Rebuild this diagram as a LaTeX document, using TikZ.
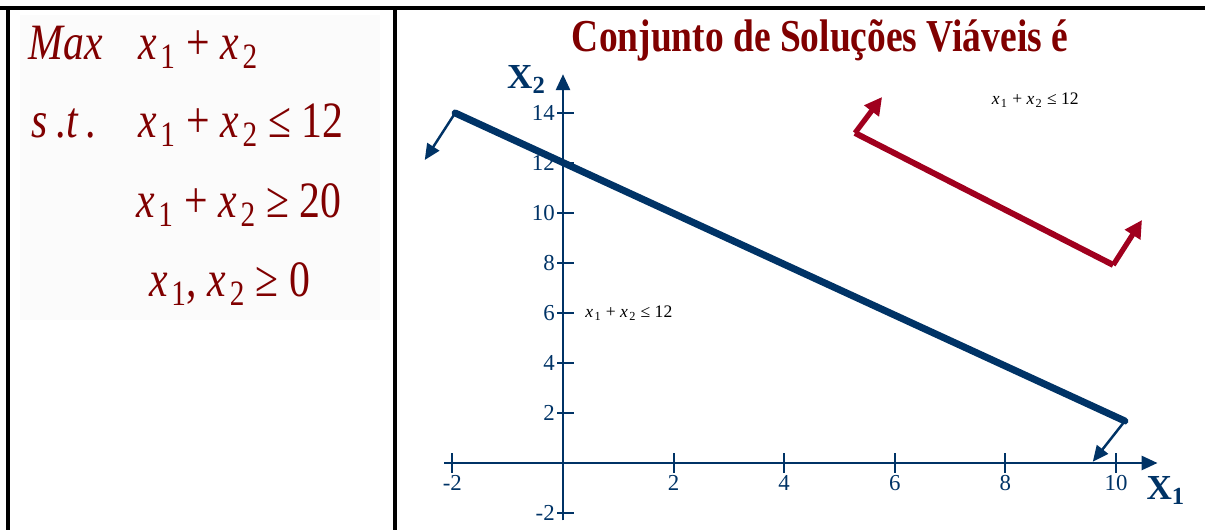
\documentclass[tikz,border=0pt]{standalone}
\usepackage{fontspec}
\setmainfont{Liberation Serif}
\newfontfamily\narrowserif[FakeStretch=0.82]{Liberation Serif}
\usetikzlibrary{arrows.meta}

\definecolor{navy}{RGB}{0,51,102}
\definecolor{crimsonline}{RGB}{160,0,30}
\definecolor{maroontext}{RGB}{128,0,0}

\newcommand{\xvar}[1]{\textit{x}\kern0.07em\textsubscript{#1}}

\tikzset{
  frameline/.style={line width=2.4pt, black},
  lpline/.style={anchor=base west, inner sep=0pt, maroontext, font=\narrowserif\fontsize{29}{32}\selectfont},
  axisline/.style={navy, line width=1.3pt, -{Triangle[length=9pt,width=8pt]}},
  tickmark/.style={navy, line width=1.1pt},
  ticklabel/.style={navy, font=\fontsize{13}{15}\selectfont, inner sep=1pt},
  axislabel/.style={navy, font=\bfseries\fontsize{20}{22}\selectfont, inner sep=1pt},
  bound/.style={navy, line width=4pt, line cap=round},
  boundarrow/.style={navy, line width=1.4pt, -{Triangle[length=9pt,width=8pt]}},
  cutline/.style={crimsonline, line width=3.4pt, line join=miter},
  cutarrow/.style={crimsonline, line width=3pt, -{Triangle[length=10pt,width=10pt]}},
  smalllabel/.style={black, font=\fontsize{10}{11}\selectfont, inner sep=0pt}
}

\begin{document}
\begin{tikzpicture}

\def\W{24.1}   
\def\H{10.6}   
\def\xM{7.9}   
\def\yT{10.44} 

\useasboundingbox (0,0) rectangle (\W,\H);

% left panel: the model
\fill[black!1.5] (0.4,4.2) rectangle (7.6,10.3);

\node[lpline] (max) at (0.56,9.4)  {\textit{Max}};
\node[lpline] (st)  at (0.62,7.84) {\textit{s\,.t\,.}};
\node[lpline] (obj) at (2.76,9.4)  {\xvar{1} + \xvar{2}};
\node[lpline] (c1)  at (2.76,7.84) {\xvar{1} + \xvar{2} ≤ 12};
\node[lpline] (c2)  at (2.72,6.24) {\xvar{1} + \xvar{2} ≥ 20};
\node[lpline] (c3)  at (2.98,4.66) {\xvar{1}, \xvar{2} ≥ 0};

% frame
\draw[frameline] (0,\yT) -- (\W,\yT);
\draw[frameline] (0.16,\yT) -- (0.16,0);
\draw[frameline] (\xM,\yT) -- (\xM,0);

% title
\node[maroontext, font=\narrowserif\bfseries\fontsize{26}{28}\selectfont] (title)
  at (16.4,9.8) {Conjunto de Soluções Viáveis é};

% right panel: the plot
\begin{scope}[shift={(11.26,1.34)}, x=1.106cm, y=0.5cm]

\draw[axisline] (-2.15,0) -- (10.75,0);
\draw[axisline] (0,-2.3) -- (0,15.55);

\foreach \t in {-2,2,4,6,8,10}
  \draw[tickmark] (\t,-0.4) -- (\t,0.4)
    node[ticklabel, pos=0, below] {\t};
\foreach \t in {-2,2,4,...,14}
  \draw[tickmark] (-0.1,\t) -- (0.2,\t)
    node[ticklabel, pos=0, left] {\t};

\node[axislabel] (xtwo) at (-0.66,15.35) {X\textsubscript{2}};
\node[axislabel] (xone) at (10.9,-1.1) {X\textsubscript{1}};

% x1 + x2 <= 12
\draw[bound] (-1.95,14) -- (10.16,1.68);
\draw[boundarrow] (-1.95,14) -- (-2.50,12.12);
\draw[boundarrow] (10.16,1.68) -- (9.58,0.05);

% x1 + x2 >= 20
\draw[cutline] (5.28,13.2) -- (9.95,7.92);
\draw[cutarrow] (5.28,13.2) -- (5.77,14.64);
\draw[cutarrow] (9.95,7.92) -- (10.47,9.72);

\node[smalllabel] (lblA) at (8.54,14.52) {\xvar{1} + \xvar{2} ≤ 12};
\node[smalllabel, anchor=west] (lblB) at (0.40,6.0) {\xvar{1} + \xvar{2} ≤ 12};

\end{scope}

\end{tikzpicture}
\end{document}
